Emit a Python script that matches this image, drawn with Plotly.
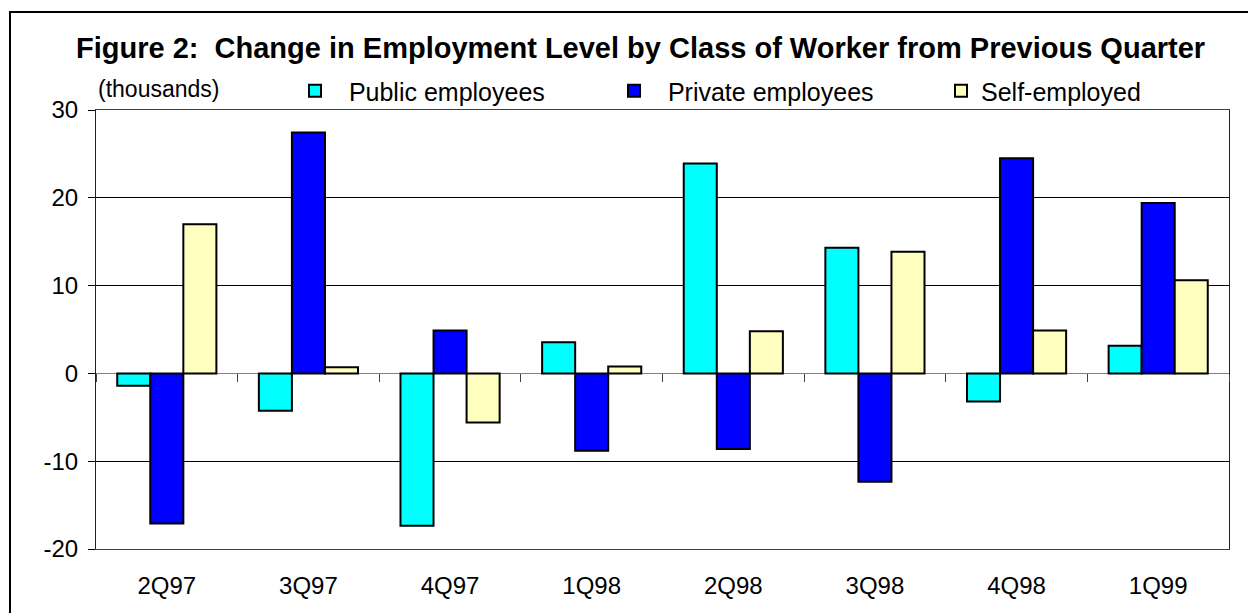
import plotly.graph_objects as go

# ---- data ----
quarters = ["2Q97", "3Q97", "4Q97", "1Q98", "2Q98", "3Q98", "4Q98", "1Q99"]
public_employees = [-1.4, -4.25, -17.35, 3.55, 23.9, 14.3, -3.2, 3.15]
private_employees = [-17.1, 27.45, 4.9, -8.8, -8.6, -12.35, 24.5, 19.4]
self_employed = [17.0, 0.7, -5.6, 0.8, 4.8, 13.85, 4.9, 10.6]
y_ticks = [-20, -10, 0, 10, 20, 30]
y_tick_labels = ["-20", "-10", "0", "10", "20", "30"]

W, H = 1248, 613
L, R, T, B = 96, 1229, 110, 549
FONT = "Arial, 'Liberation Sans', sans-serif"


def px_x(p):
    return (p - L) / (R - L)


def px_y(p):
    return (B - p) / (B - T)


NB = "\u00a0"
fig = go.Figure()
fig.add_trace(go.Bar(x=quarters, y=public_employees, name=NB * 2 + "Public employees",
                     marker=dict(color="#00FFFF", line=dict(color="black", width=2)),
                     legend="legend"))
fig.add_trace(go.Bar(x=quarters, y=private_employees, name=NB * 2 + "Private employees",
                     marker=dict(color="#0000FF", line=dict(color="black", width=2)),
                     legend="legend2"))
fig.add_trace(go.Bar(x=quarters, y=self_employed, name="Self-employed",
                     marker=dict(color="#FFFFC0", line=dict(color="black", width=2)),
                     legend="legend3"))
# invisible helper trace for the zero-line category ticks
fig.add_trace(go.Scatter(x=quarters, y=[0] * len(quarters), xaxis="x2", mode="markers",
                         marker=dict(opacity=0), showlegend=False, hoverinfo="skip"))

ymin, ymax = y_ticks[0], y_ticks[-1]
zero_pos = (0 - ymin) / (ymax - ymin)

leg_common = dict(orientation="h", yanchor="middle", xanchor="left",
                  font=dict(family=FONT, size=25, color="black"),
                  bgcolor="rgba(0,0,0,0)", borderwidth=0)

fig.update_layout(
    width=W, height=H,
    margin=dict(l=L, r=W - R, t=T, b=H - B, pad=0),
    paper_bgcolor="white", plot_bgcolor="white",
    font=dict(family=FONT, size=24, color="black"),
    barmode="group", bargap=0.3, bargroupgap=0,
    title=dict(text="<b>Figure 2:  Change in Employment Level by Class of Worker from Previous Quarter</b>",
               font=dict(family=FONT, size=29, color="black"),
               x=76 / W, xref="container", xanchor="left",
               y=1 - 48 / H, yref="container", yanchor="middle"),
    xaxis=dict(type="category", categoryorder="array", categoryarray=quarters,
               range=[-0.5, len(quarters) - 0.5],
               showline=True, linecolor="#404040", linewidth=1, mirror=True,
               ticks="outside", ticklen=15, tickcolor="rgba(0,0,0,0)",
               tickfont=dict(family=FONT, size=24, color="black"),
               showgrid=False, zeroline=False),
    xaxis2=dict(type="category", categoryorder="array", categoryarray=quarters,
                range=[-0.5, len(quarters) - 0.5], overlaying="x",
                anchor="free", position=zero_pos, side="bottom",
                tickson="boundaries", ticks="outside", ticklen=8,
                tickcolor="#404040", showticklabels=False,
                showgrid=False, showline=False, zeroline=False),
    yaxis=dict(range=[ymin, ymax], tickmode="array", tickvals=y_ticks, ticktext=y_tick_labels,
               ticks="outside", ticklen=7,
               tickcolor="black", showline=True, linecolor="#202020", linewidth=1,
               mirror=True, showgrid=True, gridcolor="black", gridwidth=1,
               zeroline=True, zerolinecolor="#808080", zerolinewidth=1,
               ticklabelstandoff=5,
               tickfont=dict(family=FONT, size=24, color="black")),
    legend=dict(x=px_x(295), y=px_y(91), **leg_common),
    legend2=dict(x=px_x(614), y=px_y(91), **leg_common),
    legend3=dict(x=px_x(941), y=px_y(91), **leg_common),
    showlegend=True,
    annotations=[dict(text="(thousands)", x=px_x(96), y=px_y(89), xref="paper", yref="paper",
                      xanchor="left", yanchor="middle", showarrow=False,
                      font=dict(family=FONT, size=23, color="black"))],
    shapes=[dict(type="path", xref="paper", yref="paper",
                 path=f"M {px_x(10)},{px_y(H + 20)} L {px_x(10)},{px_y(12)} L {px_x(W + 20)},{px_y(12)}",
                 line=dict(color="black", width=2))],
)

fig.write_html("out.html", config={"displayModeBar": False})
with open("out.html", "r", encoding="utf-8") as f:
    html = f.read()
html = html.replace("<body>", '<body style="margin:0;overflow:hidden">', 1)
with open("out.html", "w", encoding="utf-8") as f:
    f.write(html)
